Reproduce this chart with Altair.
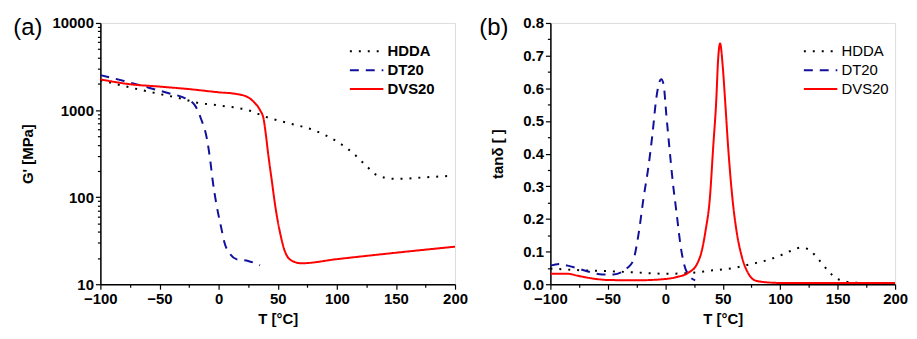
import altair as alt
import pandas as pd

SERIES = ["HDDA", "DT20", "DVS20"]
COLORS = ["#000000", "#10109a", "#ff0000"]
DASHES = [[2, 7], [9, 7], [1, 0]]
PANEL_LABELS = ["(a)", "(b)"]

# ---------- panel (a): storage modulus G' [MPa] ----------
HDDA_T_a = [-100, -75, -50, -30, -20, 0, 25, 40, 60, 80, 100, 115, 125, 135, 150, 175, 197]
HDDA_G = [2200, 1820, 1530, 1340, 1230, 1130, 995, 835, 703, 590, 436, 309, 228, 176, 162, 169, 176]

DT20_T_a = [-100, -80, -60, -40, -30, -20, -15, -10, -7, -5, -2, 2, 5, 10, 15, 25, 35]
DT20_G = [2520, 2160, 1820, 1530, 1400, 1130, 800, 476, 260, 155, 85, 46, 30, 22, 19.4, 18.5, 16.5]

DVS20_T_a = [-100, -75, -50, -25, 0, 15, 25, 30, 35, 38, 40, 42, 45, 48, 52, 56, 62, 70, 100, 150, 200]
DVS20_G = [2250, 1980, 1860, 1740, 1600, 1530, 1400, 1230, 1000, 800, 520, 309, 155, 78, 39, 24, 18.6, 17.4, 19.4, 23, 27]

# ---------- panel (b): tan delta ----------
HDDA_T_b = [-100, -75, -50, -25, 0, 20, 40, 60, 75, 90, 100, 110, 118, 124, 130, 136, 142, 148, 155, 165, 180, 190]
HDDA_TAN = [0.048, 0.043, 0.040, 0.036, 0.032, 0.034, 0.042, 0.050, 0.062, 0.075, 0.088, 0.103, 0.112, 0.108, 0.090, 0.065, 0.040, 0.020, 0.010, 0.005, 0.003, 0.002]

DT20_T_b = [-100, -92, -85, -75, -65, -55, -45, -38, -33, -28, -23, -19, -14.5, -11, -8, -5.5, -3.5, -1.5, 1, 3.7, 6.5, 10, 13.5, 16.3, 20.5, 26]
DT20_TAN = [0.057, 0.062, 0.057, 0.047, 0.037, 0.030, 0.030, 0.037, 0.050, 0.072, 0.160, 0.262, 0.364, 0.465, 0.565, 0.615, 0.628, 0.612, 0.515, 0.414, 0.314, 0.213, 0.113, 0.062, 0.027, 0.012]

DVS20_T_b = [-100, -85, -75, -60, -50, -25, 0, 10, 20, 27.6, 31.8, 35, 38.8, 41.6, 44.4, 46, 47.7, 50, 52, 54.8, 58.4, 62, 66.8, 72.4, 78, 85, 100, 150, 200]
DVS20_TAN = [0.032, 0.032, 0.025, 0.016, 0.013, 0.012, 0.016, 0.022, 0.035, 0.062, 0.103, 0.163, 0.264, 0.415, 0.566, 0.69, 0.737, 0.667, 0.566, 0.415, 0.264, 0.163, 0.082, 0.032, 0.012, 0.007, 0.004, 0.004, 0.004]


def long_df(parts):
    rows = []
    for name, ts, vs in parts:
        for i, (t, v) in enumerate(zip(ts, vs)):
            rows.append({"series": name, "T": t, "v": v, "i": i})
    return pd.DataFrame(rows)


df_a = long_df([("HDDA", HDDA_T_a, HDDA_G), ("DT20", DT20_T_a, DT20_G), ("DVS20", DVS20_T_a, DVS20_G)])
df_b = long_df([("HDDA", HDDA_T_b, HDDA_TAN), ("DT20", DT20_T_b, DT20_TAN), ("DVS20", DVS20_T_b, DVS20_TAN)])

FONT = "Liberation Sans"
axis_common = dict(
    domainColor="black", domainWidth=1.5, tickColor="black", tickWidth=1.2,
    labelFont=FONT, labelFontSize=15, labelFontWeight="bold", labelColor="black",
    titleFont=FONT, titleFontSize=15, titleFontWeight="bold", titleColor="black",
    grid=False, labelOverlap=False, labelFlush=False, labelPadding=2,
)

x_ticks = list(range(-100, 201, 25))
major_x = "datum.value % 50 === 0"


def x_axis():
    return alt.Axis(
        values=x_ticks, title="T [°C]", titlePadding=6,
        labelExpr=f"{major_x} ? datum.label : ''",
        tickSize={"condition": {"test": major_x, "value": 5}, "value": 3},
        format="d", **axis_common,
    )


log_ticks = []
for dec in [10, 100, 1000]:
    for m in range(1, 10):
        log_ticks.append(dec * m)
log_ticks.append(10000)
major_log = "indexof([10,100,1000,10000], datum.value) >= 0"

y_ticks_b = [round(i * 0.05, 2) for i in range(17)]
major_b = "abs(datum.value*10 - round(datum.value*10)) < 0.001"


def legend(x, y, bold):
    return alt.Legend(
        title=None, orient="none", legendX=x, legendY=y,
        symbolType="M-1.8,0H1.8", symbolSize=350, symbolStrokeWidth=2,
        symbolFillColor="transparent",
        labelFont=FONT, labelFontSize=15, labelFontWeight="bold" if bold else "normal",
        labelColor="black", labelOffset=10.5, rowPadding=0, padding=0,
    )


def lines(df, yenc, lx, ly, bold):
    return alt.Chart(df).mark_line(strokeWidth=2, interpolate="monotone", clip=True).encode(
        x=alt.X("T:Q", scale=alt.Scale(domain=[-100, 200], nice=False), axis=x_axis()),
        y=yenc,
        color=alt.Color("series:N", scale=alt.Scale(domain=SERIES, range=COLORS), legend=legend(lx, ly, bold)),
        strokeDash=alt.StrokeDash("series:N", scale=alt.Scale(domain=SERIES, range=DASHES), legend=legend(lx, ly, bold)),
        order="i:Q",
        detail="series:N",
    )


def panel_label(text, dx):
    return alt.Chart(pd.DataFrame({"t": [text]})).mark_text(
        font=FONT, fontSize=24, align="center", baseline="middle", color="black"
    ).encode(x=alt.value(dx), y=alt.value(5), text="t:N")


y_a = alt.Y(
    "v:Q", scale=alt.Scale(type="log", domain=[10, 10000], nice=False),
    axis=alt.Axis(values=log_ticks, title="G' [MPa]", titlePadding=17, format="d",
                  labelExpr=f"{major_log} ? datum.label : ''",
                  tickSize={"condition": {"test": major_log, "value": 5}, "value": 3},
                  **axis_common),
)
y_b = alt.Y(
    "v:Q", scale=alt.Scale(domain=[0, 0.8], nice=False),
    axis=alt.Axis(values=y_ticks_b, title="tanδ [ ]", titlePadding=17, format=".1f",
                  labelExpr=f"{major_b} ? datum.label : ''",
                  tickSize={"condition": {"test": major_b, "value": 5}, "value": 3},
                  **axis_common),
)

left = alt.layer(lines(df_a, y_a, 257.5, 18, True), panel_label(PANEL_LABELS[0], -73)).properties(width=357, height=263)
right = alt.layer(lines(df_b, y_b, 261.5, 18, False), panel_label(PANEL_LABELS[1], -57)).properties(width=347, height=263)

chart = alt.hconcat(left, right, spacing=9).resolve_scale(
    color="independent", strokeDash="independent", x="independent", y="independent"
).resolve_legend(color="independent", strokeDash="independent").properties(
    padding={"left": 4, "top": 6, "right": 0, "bottom": 0}
).configure_view(stroke="black", strokeWidth=1.5).configure(background="white")

chart.save("out.html", embed_options={"renderer": "svg", "actions": False})
